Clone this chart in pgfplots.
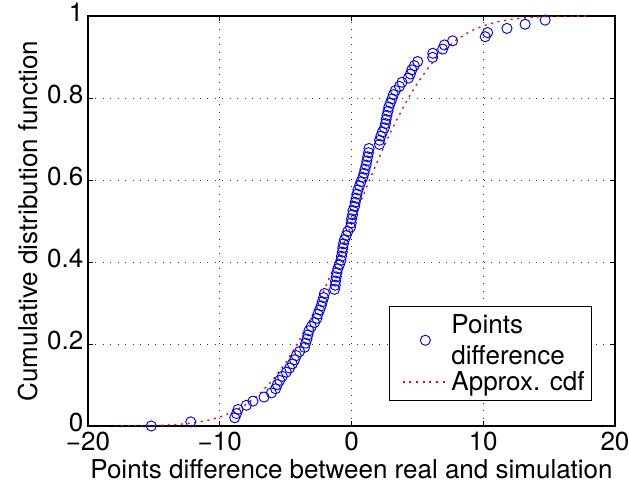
\documentclass[border=0pt]{standalone}
\usepackage{fontspec}
\setmainfont{TeX Gyre Heros}
\usepackage{pgfplots}
\usepackage{pgfplotstable}
\pgfplotsset{compat=1.18}
\newcommand{\bigf}{\fontsize{19.5}{23}\selectfont}
\definecolor{mblue}{RGB}{0,0,255}
\definecolor{mred}{RGB}{255,0,0}
\pgfplotsset{
  circleleg/.style={legend image code/.code={\path[draw=none] (-0.25cm,0cm) -- (0cm,0cm);\draw[mark repeat=2,mark phase=2,##1] plot coordinates {(0cm,0cm)(0.6cm,0cm)(1.2cm,0cm)};}},
  lineleg/.style={legend image code/.code={\path[draw=none] (-0.25cm,0cm) -- (0cm,0cm);\draw[##1, mred, line width=1pt, dash pattern=on 1.5pt off 3.5pt] (0cm,0cm) -- (1.2cm,0cm);}},
}
\pgfplotstableread{
x y
-15.2 0.0000
-12.2 0.0101
-8.86 0.0202
-8.73 0.0303
-8.61 0.0404
-7.98 0.0505
-7.48 0.0606
-6.64 0.0707
-6.08 0.0808
-5.76 0.0909
-5.63 0.1010
-5.45 0.1111
-5.25 0.1212
-4.95 0.1313
-4.70 0.1414
-4.49 0.1515
-4.32 0.1616
-4.19 0.1717
-3.94 0.1818
-3.56 0.1919
-3.48 0.2020
-3.38 0.2121
-3.31 0.2222
-3.23 0.2323
-3.05 0.2424
-2.80 0.2525
-2.63 0.2626
-2.55 0.2727
-2.42 0.2828
-2.30 0.2929
-2.22 0.3030
-2.12 0.3131
-2.05 0.3232
-1.29 0.3333
-1.23 0.3434
-1.21 0.3535
-1.16 0.3636
-1.11 0.3737
-1.04 0.3838
-0.91 0.3939
-0.80 0.4040
-0.76 0.4141
-0.70 0.4242
-0.66 0.4343
-0.61 0.4444
-0.53 0.4545
-0.40 0.4646
-0.28 0.4747
-0.08 0.4848
-0.02 0.4949
0.00 0.5051
0.08 0.5152
0.11 0.5253
0.23 0.5354
0.28 0.5455
0.36 0.5556
0.42 0.5657
0.49 0.5758
0.61 0.5859
0.72 0.5960
0.86 0.6061
0.95 0.6162
1.02 0.6263
1.11 0.6364
1.17 0.6465
1.23 0.6566
1.29 0.6667
1.33 0.6768
2.12 0.6869
2.13 0.6970
2.23 0.7071
2.35 0.7172
2.50 0.7273
2.58 0.7374
2.63 0.7475
2.69 0.7576
2.77 0.7677
2.83 0.7778
2.95 0.7879
3.07 0.7980
3.18 0.8081
3.33 0.8182
3.64 0.8283
3.83 0.8384
4.32 0.8485
4.47 0.8586
4.58 0.8687
4.77 0.8788
5.02 0.8889
6.16 0.8990
6.17 0.9091
6.92 0.9192
7.05 0.9293
7.67 0.9394
10.15 0.9495
10.33 0.9596
11.80 0.9697
13.18 0.9798
14.70 0.9899
}\ptsdata
\pgfplotstableread{
x y
-18 0.00015
-17 0.0003
-16 0.00064
-15 0.00126
-14 0.0024
-13 0.0044
-12 0.0078
-11 0.0132
-10 0.0217
-9 0.0344
-8 0.0526
-7 0.0778
-6 0.1112
-5 0.1539
-4 0.2061
-3 0.2676
-2 0.3372
-1 0.4129
0 0.4920
1 0.5714
2 0.6480
3 0.7190
4 0.7823
5 0.8365
6 0.8810
7 0.9162
8 0.9429
9 0.9625
10 0.9761
11 0.9854
12 0.9913
13 0.9951
14 0.9973
15 0.9986
16 0.9993
17 0.9996
18 0.9998
}\cdfdata
\begin{document}
\begin{tikzpicture}
\begin{axis}[
  at={(0,0)}, anchor=south west,
  scale only axis, width=395.25pt, height=307.5pt,
  xmin=-20, xmax=20, ymin=0, ymax=1,
  xtick={-20,-10,0,10,20}, xticklabels={−20,−10,0,10,20},
  ytick={0,0.2,0.4,0.6,0.8,1}, yticklabels={0,0.2,0.4,0.6,0.8,1},
  tick align=inside, tick pos=both, major tick length=4pt,
  grid=major, grid style={black!80, line width=0.6pt, dash pattern=on 0.6pt off 5pt},
  axis line style={line width=0.8pt, black},
  tick style={line width=0.6pt, black},
  tick label style={font=\bigf},
  xticklabel style={yshift=-4.5pt, inner ysep=0pt},
  yticklabel style={yshift=2.5pt, inner ysep=0pt},
  label style={font=\bigf},
  xlabel={Points difference between real and simulation},
  ylabel={Cumulative distribution function},
  xlabel style={at={(axis description cs:0.5,-0.127)}, anchor=base},
  ylabel style={at={(axis description cs:-0.114,0.5)}, anchor=center},
  legend style={at={(0.956,0.061)}, anchor=south east, draw=black, line width=0.8pt,
    font=\bigf, cells={align=left, anchor=west}, inner sep=3pt, inner ysep=4pt},
]
\addplot[only marks, mark=o, mark size=3.8pt, mblue, mark options={line width=0.7pt}, circleleg]
  table[x=x,y=y] {\ptsdata};
\addlegendentry{Points\\difference}
\addplot[mred, line width=1pt, dash pattern=on 1.5pt off 3.5pt, lineleg]
  table[x=x,y=y] {\cdfdata};
\addlegendentry{Approx. cdf}
\end{axis}
\pgfresetboundingbox
\path (-66pt,-44.25pt) rectangle (405.75pt,319.5pt);
\end{tikzpicture}
\end{document}
